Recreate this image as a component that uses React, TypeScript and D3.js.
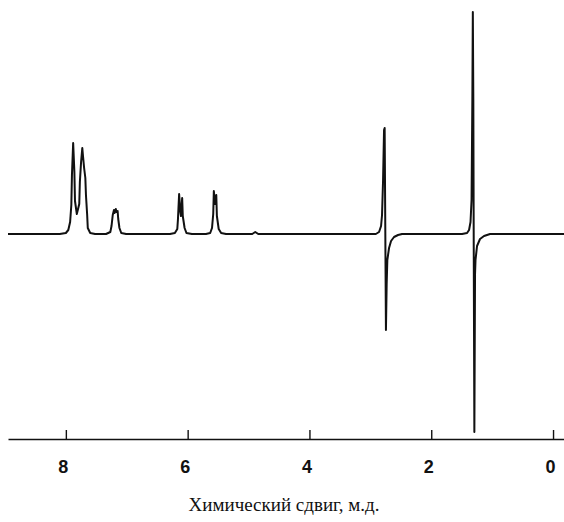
import React, { useEffect, useRef } from 'react'
import * as d3 from 'd3'

// chemical shift (ppm) of traced points
const shiftPpm = [
  8.95, 8.1, 8.0, 7.96, 7.93, 7.91, 7.9, 7.88, 7.86, 7.85, 7.82, 7.78, 7.77, 7.75, 7.73, 7.72, 7.7, 7.68, 7.67, 7.65, 7.64, 7.6, 7.52,
  7.34, 7.27, 7.25, 7.23, 7.21, 7.2, 7.18, 7.17, 7.15, 7.14, 7.12, 7.09, 7.01,
  6.29, 6.21, 6.17, 6.16, 6.14, 6.12, 6.11, 6.09, 6.08, 6.05, 6.02, 5.93,
  5.7, 5.63, 5.6, 5.58, 5.57, 5.55, 5.53, 5.52, 5.49, 5.45, 5.37,
  4.94, 4.89, 4.84,
  3.0, 2.91, 2.857, 2.824, 2.808, 2.791, 2.775, 2.765, 2.754, 2.744, 2.732, 2.721, 2.693, 2.66, 2.611, 2.545, 2.479,
  1.494, 1.412, 1.379, 1.355, 1.338, 1.325, 1.317, 1.309, 1.302, 1.292, 1.281, 1.273, 1.248, 1.199, 1.133, 1.034, -0.18,
]

// signal intensity (arbitrary units, baseline = 0)
const intensity = [
  0, 0, 1, 4, 12, 29, 59, 91, 62, 33, 20, 30, 52, 72, 86, 79, 66, 56, 39, 19, 6, 1, 0,
  0, 2, 8, 19, 24, 21, 25, 22, 23, 15, 6, 1, 0,
  0, 1, 5, 14, 40, 22, 18, 36, 18, 6, 1, 0,
  0, 1, 6, 20, 43, 30, 39, 18, 5, 1, 0,
  0, 2, 0,
  0, 0, 2, 8, 19, 54, 104, 106, 0, -96, -50, -26, -14, -7, -3, -1, 0,
  0, 1, 4, 12, 34, 134, 222, 134, -16, -198, -40, -26, -12, -5, -2, 0, 0,
]

const tickValues = [8, 6, 4, 2, 0]
const axisTitle = 'Химический сдвиг, м.д.'

const W = 564
const H = 522

export default function App() {
  const ref = useRef<SVGSVGElement>(null)

  useEffect(() => {
    const svg = d3.select(ref.current)
    svg.selectAll('*').remove()

    const x = d3.scaleLinear().domain([8.95, -0.18]).range([8, 564])
    const y = d3.scaleLinear().domain([-222, 222]).range([456, 12])
    const axisY = 439

    const points = shiftPpm.map((p, i) => [p, intensity[i]] as [number, number])

    const line = d3
      .line<[number, number]>()
      .x(d => x(d[0]))
      .y(d => y(d[1]))

    svg
      .append('path')
      .datum(points)
      .attr('d', line)
      .attr('fill', 'none')
      .attr('stroke', '#111')
      .attr('stroke-width', 2)
      .attr('stroke-linejoin', 'round')

    const xAxis = d3
      .axisBottom(x)
      .tickValues(tickValues)
      .tickFormat(d3.format('d'))
      .tickSizeInner(-9)
      .tickSizeOuter(0)
      .tickPadding(21)

    const g = svg
      .append('g')
      .attr('transform', `translate(0,${axisY})`)
      .call(xAxis)

    g.select('.domain').attr('stroke', '#111').attr('stroke-width', 1.6)
    g.selectAll('.tick line').attr('stroke', '#111').attr('stroke-width', 1.4)
    g.selectAll('.tick text')
      .attr('fill', '#111')
      .attr('dx', -3)
      .style('font', 'bold 18px "Liberation Sans", Arial, sans-serif')

    svg
      .append('text')
      .attr('x', 284)
      .attr('y', 511)
      .attr('text-anchor', 'middle')
      .attr('fill', '#111')
      .style('font', '19px "Liberation Serif", "Times New Roman", serif')
      .text(axisTitle)
  }, [])

  return (
    <svg
      ref={ref}
      width={W}
      height={H}
      viewBox={`0 0 ${W} ${H}`}
      style={{ position: 'absolute', left: 0, top: 0, background: '#fff' }}
    />
  )
}
